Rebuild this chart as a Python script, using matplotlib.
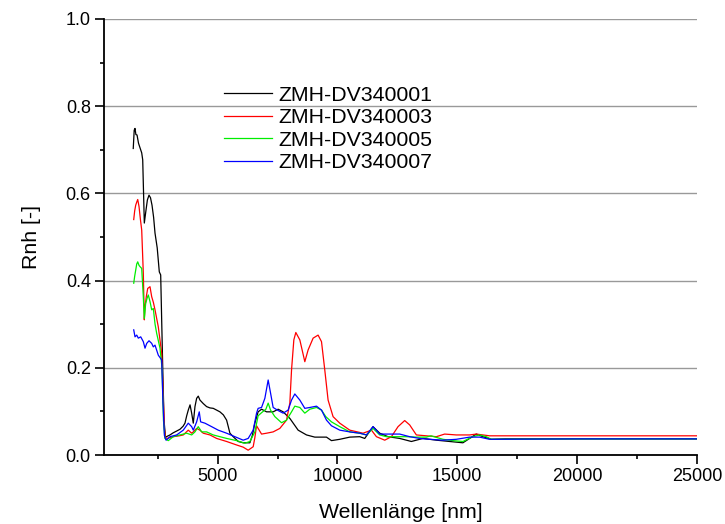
import matplotlib
matplotlib.use("Agg")
import matplotlib.pyplot as plt
from matplotlib.ticker import MultipleLocator

plt.rcParams['font.family'] = ['Liberation Sans', 'DejaVu Sans']

# ZMH-DV340001
x1 = [1480, 1520, 1554, 1590, 1638, 1700, 1760, 1833, 1875, 1942, 2013, 2070, 2138, 2200, 2263,
      2330, 2388, 2480, 2567, 2625, 2709, 2763, 2825, 2900, 3013, 3150, 3292, 3430, 3560, 3638,
      3710, 3776, 3850, 3917, 3985, 4055, 4125, 4193, 4263, 4400, 4541, 4680, 4818, 4958, 5096,
      5240, 5375, 5445, 5513, 5651, 5860, 6067, 6346, 6450, 6554, 6690, 6833, 7042, 7317, 7525,
      7734, 8013, 8359, 8709, 9055, 9542, 9750, 10096, 10513, 10930, 11138, 11484, 11763, 12109,
      12597, 13084, 13567, 14126, 14680, 15234, 15792, 16067, 16418, 17000, 20000, 25000]
y1 = [0.703, 0.745, 0.749, 0.735, 0.734, 0.715, 0.705, 0.693, 0.677, 0.532, 0.562, 0.585, 0.596,
      0.590, 0.573, 0.545, 0.509, 0.475, 0.420, 0.413, 0.203, 0.080, 0.041, 0.043, 0.046, 0.051,
      0.055, 0.059, 0.066, 0.073, 0.090, 0.103, 0.115, 0.096, 0.073, 0.111, 0.130, 0.135, 0.126,
      0.118, 0.111, 0.108, 0.107, 0.103, 0.099, 0.092, 0.080, 0.065, 0.050, 0.042, 0.031, 0.028,
      0.028, 0.045, 0.073, 0.099, 0.105, 0.099, 0.099, 0.105, 0.099, 0.084, 0.057, 0.046, 0.041,
      0.041, 0.033, 0.036, 0.041, 0.042, 0.038, 0.065, 0.050, 0.042, 0.038, 0.031, 0.038, 0.034,
      0.031, 0.028, 0.048, 0.042, 0.036, 0.037, 0.037, 0.037]

# ZMH-DV340003
x3 = [1500, 1540, 1583, 1625, 1667, 1721, 1780, 1833, 1900, 1942, 1971, 2030, 2083, 2179, 2250,
      2320, 2388, 2525, 2667, 2720, 2780, 2825, 2900, 3150, 3400, 3567, 3776, 3917, 3985, 4125,
      4263, 4400, 4680, 4958, 5375, 5792, 6067, 6275, 6484, 6554, 6625, 6690, 6833, 7042, 7317,
      7596, 7875, 8013, 8084, 8180, 8263, 8430, 8638, 8776, 8984, 9192, 9334, 9471, 9609, 9817,
      10096, 10513, 11067, 11417, 11626, 11972, 12250, 12527, 12805, 13013, 13292, 13709, 14126,
      14472, 14959, 15513, 15792, 16347, 20000, 25000]
y3 = [0.540, 0.560, 0.573, 0.580, 0.586, 0.570, 0.540, 0.516, 0.417, 0.310, 0.340, 0.365, 0.382,
      0.386, 0.363, 0.350, 0.333, 0.294, 0.233, 0.150, 0.060, 0.040, 0.038, 0.042, 0.044, 0.046,
      0.057, 0.050, 0.053, 0.061, 0.057, 0.050, 0.046, 0.038, 0.031, 0.023, 0.018, 0.011, 0.019,
      0.040, 0.067, 0.061, 0.048, 0.050, 0.053, 0.061, 0.080, 0.119, 0.195, 0.264, 0.281, 0.264,
      0.214, 0.241, 0.268, 0.275, 0.260, 0.195, 0.126, 0.088, 0.073, 0.057, 0.050, 0.057, 0.042,
      0.034, 0.042, 0.065, 0.079, 0.069, 0.046, 0.044, 0.042, 0.048, 0.046, 0.046, 0.048, 0.044,
      0.044, 0.044]

# ZMH-DV340005
x5 = [1500, 1540, 1583, 1625, 1667, 1721, 1763, 1833, 1900, 1942, 2000, 2060, 2108, 2179, 2250,
      2317, 2390, 2458, 2596, 2680, 2740, 2800, 2942, 3150, 3430, 3709, 3917, 4055, 4193, 4334,
      4541, 4818, 5096, 5375, 5792, 6138, 6346, 6554, 6690, 6833, 7013, 7109, 7209, 7388, 7667,
      7875, 8084, 8221, 8430, 8638, 8846, 9125, 9334, 9513, 9750, 10096, 10513, 10930, 11209,
      11484, 11763, 12042, 12459, 12875, 13292, 13709, 13900, 14401, 14818, 15234, 15651, 15930,
      16209, 16418, 20000, 25000]
y5 = [0.394, 0.410, 0.424, 0.438, 0.443, 0.435, 0.432, 0.428, 0.363, 0.313, 0.348, 0.360, 0.367,
      0.352, 0.333, 0.336, 0.300, 0.279, 0.245, 0.200, 0.080, 0.038, 0.033, 0.042, 0.046, 0.050,
      0.046, 0.053, 0.065, 0.053, 0.053, 0.046, 0.042, 0.038, 0.033, 0.027, 0.031, 0.053, 0.090,
      0.097, 0.105, 0.119, 0.103, 0.088, 0.074, 0.080, 0.099, 0.112, 0.109, 0.096, 0.105, 0.109,
      0.103, 0.088, 0.076, 0.065, 0.053, 0.050, 0.046, 0.061, 0.046, 0.042, 0.042, 0.042, 0.041,
      0.041, 0.044, 0.036, 0.033, 0.031, 0.042, 0.046, 0.042, 0.036, 0.037, 0.037]

# ZMH-DV340007
x7 = [1500, 1554, 1625, 1692, 1792, 1900, 1971, 2042, 2138, 2250, 2317, 2388, 2525, 2667, 2720,
      2780, 2850, 3013, 3292, 3567, 3776, 3917, 3985, 4125, 4234, 4292, 4471, 4751, 5025, 5375,
      5721, 6067, 6275, 6484, 6625, 6690, 6833, 6971, 7109, 7209, 7317, 7525, 7734, 7942, 8084,
      8221, 8430, 8638, 8846, 9125, 9334, 9542, 9750, 10096, 10513, 10930, 11209, 11484, 11763,
      12180, 12597, 13013, 13430, 13846, 14401, 14959, 15513, 15930, 16347, 20000, 25000]
y7 = [0.287, 0.271, 0.275, 0.268, 0.271, 0.260, 0.245, 0.256, 0.262, 0.256, 0.248, 0.252, 0.229,
      0.218, 0.120, 0.045, 0.034, 0.042, 0.046, 0.057, 0.073, 0.065, 0.057, 0.076, 0.099, 0.076,
      0.073, 0.065, 0.057, 0.050, 0.042, 0.034, 0.038, 0.057, 0.096, 0.107, 0.109, 0.130, 0.172,
      0.142, 0.109, 0.102, 0.096, 0.103, 0.126, 0.140, 0.126, 0.107, 0.109, 0.112, 0.103, 0.080,
      0.067, 0.057, 0.053, 0.050, 0.046, 0.065, 0.048, 0.048, 0.048, 0.042, 0.038, 0.036, 0.034,
      0.036, 0.041, 0.041, 0.036, 0.037, 0.037]

labels = ['ZMH-DV340001', 'ZMH-DV340003', 'ZMH-DV340005', 'ZMH-DV340007']
colors = ['black', '#ff0000', '#00ee00', '#0000ff']

fig = plt.figure(figsize=(7.25, 5.24), dpi=100)
ax = fig.add_axes([104 / 725, 1 - 455 / 524, 593 / 725, 436 / 524])

for xs, ys, lab, col in zip([x1, x3, x5, x7], [y1, y3, y5, y7], labels, colors):
    ax.plot(xs, ys, color=col, lw=0.9, label=lab)

ax.set_xlim(260, 25000)
ax.set_ylim(0, 1.0)
ax.xaxis.set_major_locator(MultipleLocator(5000))
ax.xaxis.set_minor_locator(MultipleLocator(2500))
ax.yaxis.set_major_locator(MultipleLocator(0.2))
ax.yaxis.set_minor_locator(MultipleLocator(0.1))
ax.yaxis.set_major_formatter(matplotlib.ticker.FormatStrFormatter('%.1f'))

ax.grid(axis='y', which='major', color='#999999', lw=1.0)
ax.set_axisbelow(True)
for s in ['top', 'right']:
    ax.spines[s].set_visible(False)
for s in ['left', 'bottom']:
    ax.spines[s].set_linewidth(1.3)
ax.tick_params(which='major', direction='out', length=6.5, width=1.2, labelsize=13, pad=3)
ax.tick_params(which='minor', direction='out', length=3, width=1.2)

ax.set_xlabel('Wellenlänge [nm]', fontsize=15.3, labelpad=13)
ax.set_ylabel('Rnh [-]', fontsize=15.3, labelpad=18)

leg = ax.legend(loc='center left', bbox_to_anchor=(0.2024, 0.748), frameon=False, fontsize=15.3,
                handlelength=2.26, handletextpad=0.28, labelspacing=0.16, borderpad=0,
                borderaxespad=0)

fig.savefig('out.png', dpi=100)
